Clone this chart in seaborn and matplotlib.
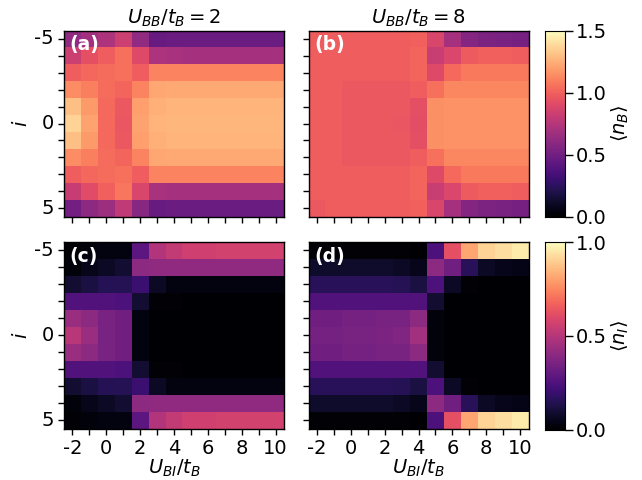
import numpy as np
import matplotlib
matplotlib.use("Agg")
import matplotlib.pyplot as plt
import seaborn as sns

# x: U_BI/t_B, y: site index i
u_bi = [-2, -1, 0, 1, 2, 3, 4, 5, 6, 7, 8, 9, 10]
sites = [-5, -4, -3, -2, -1, 0, 1, 2, 3, 4, 5]
xtick_labels = ["-2", "", "0", "", "2", "", "4", "", "6", "", "8", "", "10"]
ytick_labels = ["-5", "", "", "", "", "0", "", "", "", "", "5"]
titles = ["$U_{BB}/t_B=2$", "$U_{BB}/t_B=8$"]
panel_tags = ["(a)", "(b)", "(c)", "(d)"]

# <n_B>, U_BB/t_B = 2
nB_ubb2 = np.array([
    [0.62, 0.68, 0.72, 0.83, 0.62, 0.46, 0.47, 0.47, 0.47, 0.47, 0.47, 0.47, 0.47],
    [0.83, 0.93, 0.99, 1.05, 0.90, 0.72, 0.70, 0.69, 0.69, 0.69, 0.69, 0.69, 0.69],
    [0.99, 1.02, 1.04, 1.05, 0.99, 1.11, 1.11, 1.11, 1.11, 1.11, 1.11, 1.11, 1.11],
    [1.14, 1.10, 1.04, 1.01, 1.11, 1.22, 1.23, 1.23, 1.23, 1.23, 1.23, 1.23, 1.23],
    [1.30, 1.18, 1.03, 0.97, 1.20, 1.25, 1.26, 1.26, 1.26, 1.26, 1.26, 1.26, 1.26],
    [1.36, 1.21, 1.03, 0.96, 1.21, 1.26, 1.27, 1.27, 1.27, 1.27, 1.27, 1.27, 1.27],
    [1.30, 1.18, 1.03, 0.97, 1.20, 1.25, 1.26, 1.26, 1.26, 1.26, 1.26, 1.26, 1.26],
    [1.14, 1.10, 1.04, 1.01, 1.11, 1.22, 1.23, 1.23, 1.23, 1.23, 1.23, 1.23, 1.23],
    [0.99, 1.02, 1.04, 1.05, 0.99, 1.11, 1.11, 1.11, 1.11, 1.11, 1.11, 1.11, 1.11],
    [0.81, 0.91, 1.00, 1.07, 0.88, 0.70, 0.69, 0.69, 0.69, 0.69, 0.69, 0.69, 0.69],
    [0.50, 0.60, 0.66, 0.78, 0.58, 0.46, 0.47, 0.47, 0.47, 0.47, 0.47, 0.47, 0.47],
])

# <n_B>, U_BB/t_B = 8
nB_ubb8 = np.array([
    [0.98, 0.99, 0.99, 0.99, 0.99, 0.99, 1.00, 0.88, 0.69, 0.57, 0.54, 0.53, 0.52],
    [0.99, 0.99, 0.99, 0.99, 0.99, 0.99, 1.01, 0.82, 0.89, 0.98, 1.00, 1.00, 0.99],
    [0.99, 0.99, 0.99, 0.99, 0.99, 0.99, 1.01, 0.90, 1.03, 1.08, 1.08, 1.08, 1.08],
    [0.99, 0.99, 0.97, 0.97, 0.97, 0.97, 0.99, 1.05, 1.12, 1.12, 1.12, 1.12, 1.12],
    [0.99, 0.99, 0.97, 0.97, 0.97, 0.97, 0.93, 1.15, 1.16, 1.16, 1.16, 1.16, 1.16],
    [0.99, 0.99, 0.97, 0.97, 0.97, 0.96, 0.92, 1.15, 1.16, 1.16, 1.16, 1.16, 1.16],
    [0.99, 0.99, 0.97, 0.97, 0.97, 0.97, 0.93, 1.15, 1.16, 1.16, 1.16, 1.16, 1.16],
    [0.99, 0.99, 0.97, 0.97, 0.97, 0.97, 0.99, 1.05, 1.12, 1.12, 1.12, 1.12, 1.12],
    [0.99, 0.99, 0.99, 0.99, 0.99, 0.99, 1.01, 0.90, 1.03, 1.08, 1.08, 1.08, 1.08],
    [0.99, 0.99, 0.99, 0.99, 0.99, 0.99, 1.01, 0.82, 0.89, 0.98, 1.00, 1.00, 0.99],
    [0.97, 0.99, 0.99, 0.99, 0.99, 0.99, 1.00, 0.88, 0.69, 0.57, 0.54, 0.53, 0.52],
])

# <n_I>, U_BB/t_B = 2
nI_ubb2 = np.array([
    [0.01, 0.02, 0.03, 0.03, 0.28, 0.49, 0.53, 0.56, 0.56, 0.57, 0.57, 0.57, 0.57],
    [0.02, 0.05, 0.07, 0.09, 0.40, 0.41, 0.41, 0.41, 0.41, 0.41, 0.41, 0.41, 0.41],
    [0.09, 0.12, 0.15, 0.15, 0.20, 0.07, 0.03, 0.03, 0.03, 0.03, 0.03, 0.03, 0.03],
    [0.25, 0.25, 0.25, 0.24, 0.09, 0.01, 0.01, 0.00, 0.00, 0.00, 0.00, 0.00, 0.00],
    [0.43, 0.40, 0.35, 0.33, 0.03, 0.00, 0.00, 0.00, 0.00, 0.00, 0.00, 0.00, 0.00],
    [0.50, 0.43, 0.35, 0.33, 0.03, 0.00, 0.00, 0.00, 0.00, 0.00, 0.00, 0.00, 0.00],
    [0.43, 0.40, 0.35, 0.33, 0.03, 0.00, 0.00, 0.00, 0.00, 0.00, 0.00, 0.00, 0.00],
    [0.25, 0.25, 0.25, 0.24, 0.09, 0.01, 0.01, 0.00, 0.00, 0.00, 0.00, 0.00, 0.00],
    [0.09, 0.12, 0.15, 0.15, 0.20, 0.07, 0.03, 0.03, 0.03, 0.03, 0.03, 0.03, 0.03],
    [0.02, 0.05, 0.07, 0.09, 0.40, 0.41, 0.41, 0.41, 0.41, 0.41, 0.41, 0.41, 0.41],
    [0.01, 0.02, 0.03, 0.03, 0.28, 0.49, 0.53, 0.56, 0.56, 0.57, 0.57, 0.57, 0.57],
])

# <n_I>, U_BB/t_B = 8
nI_ubb8 = np.array([
    [0.01, 0.01, 0.01, 0.01, 0.01, 0.01, 0.00, 0.24, 0.62, 0.81, 0.91, 0.93, 0.96],
    [0.08, 0.08, 0.08, 0.08, 0.08, 0.07, 0.05, 0.40, 0.33, 0.16, 0.07, 0.05, 0.04],
    [0.16, 0.16, 0.16, 0.16, 0.16, 0.15, 0.12, 0.24, 0.07, 0.01, 0.00, 0.00, 0.00],
    [0.25, 0.25, 0.25, 0.25, 0.25, 0.25, 0.25, 0.09, 0.00, 0.00, 0.00, 0.00, 0.00],
    [0.33, 0.33, 0.34, 0.34, 0.35, 0.35, 0.40, 0.02, 0.00, 0.00, 0.00, 0.00, 0.00],
    [0.34, 0.34, 0.35, 0.35, 0.36, 0.37, 0.45, 0.02, 0.00, 0.00, 0.00, 0.00, 0.00],
    [0.33, 0.33, 0.34, 0.34, 0.35, 0.35, 0.40, 0.02, 0.00, 0.00, 0.00, 0.00, 0.00],
    [0.25, 0.25, 0.25, 0.25, 0.25, 0.25, 0.25, 0.09, 0.00, 0.00, 0.00, 0.00, 0.00],
    [0.16, 0.16, 0.16, 0.16, 0.16, 0.15, 0.12, 0.24, 0.07, 0.01, 0.00, 0.00, 0.00],
    [0.08, 0.08, 0.08, 0.08, 0.08, 0.07, 0.05, 0.40, 0.33, 0.16, 0.07, 0.05, 0.04],
    [0.01, 0.01, 0.01, 0.01, 0.01, 0.01, 0.00, 0.24, 0.62, 0.81, 0.91, 0.93, 0.96],
])

FS = 14
plt.rcParams.update({
    "font.size": FS,
    "xtick.labelsize": FS,
    "ytick.labelsize": FS,
    "axes.labelsize": FS,
    "axes.titlesize": FS,
})

W, H = 642, 480
fig = plt.figure(figsize=(W / 100, H / 100), dpi=100)


def box(x0, y0, x1, y1):
    return [x0 / W, 1 - y1 / H, (x1 - x0) / W, (y1 - y0) / H]


ax_pos = [
    box(64, 30.5, 284, 216.5), box(308.5, 30.5, 528.5, 216.5),
    box(64, 242, 284, 428.5), box(308.5, 242, 528.5, 428.5),
]
cax_top = fig.add_axes(box(545, 30.5, 564.5, 216.5))
cax_bot = fig.add_axes(box(545, 242, 564.5, 429.5))

datasets = [nB_ubb2, nB_ubb8, nI_ubb2, nI_ubb8]
axes = [fig.add_axes(p) for p in ax_pos]

for k, (ax, data) in enumerate(zip(axes, datasets)):
    top = k < 2
    vmax = 1.5 if top else 1.0
    cax = cax_top if top else cax_bot
    draw_cbar = k in (1, 3)
    sns.heatmap(data, ax=ax, cmap="magma", vmin=0, vmax=vmax,
                xticklabels=xtick_labels, yticklabels=ytick_labels,
                cbar=draw_cbar, cbar_ax=cax if draw_cbar else None,
                cbar_kws={"ticks": [0, 0.5, 1.0, 1.5] if top else [0, 0.5, 1.0]})
    for s in ax.spines.values():
        s.set_visible(True)
        s.set_color("black")
        s.set_linewidth(1.0)
    ax.tick_params(axis="both", length=4.5, width=1.0, color="black", pad=3)
    ax.set_yticklabels(ytick_labels, rotation=0)
    ax.set_xticklabels(xtick_labels, rotation=0)
    if top:
        ax.tick_params(axis="x", labelbottom=False)
        ax.set_title(titles[k], pad=5)
    else:
        ax.set_xlabel("$U_{BI}/t_B$", labelpad=0)
    if k % 2 == 1:
        ax.tick_params(axis="y", labelleft=False)
    else:
        ax.set_ylabel("$i$", labelpad=2)
    ax.text(0.025, 0.975, panel_tags[k], transform=ax.transAxes, color="white",
            fontweight="bold", fontsize=13.5, ha="left", va="top")

for cax, lab in [(cax_top, r"$\langle n_B\rangle$"), (cax_bot, r"$\langle n_I\rangle$")]:
    cax.tick_params(length=6, width=1.0, labelsize=FS, pad=2)
    cax.set_ylabel(lab, labelpad=2)
    for s in cax.spines.values():
        s.set_visible(True)
        s.set_color("black")
    cax.set_yticklabels([t.get_text() for t in cax.get_yticklabels()])

fig.savefig("out.png", dpi=100)
